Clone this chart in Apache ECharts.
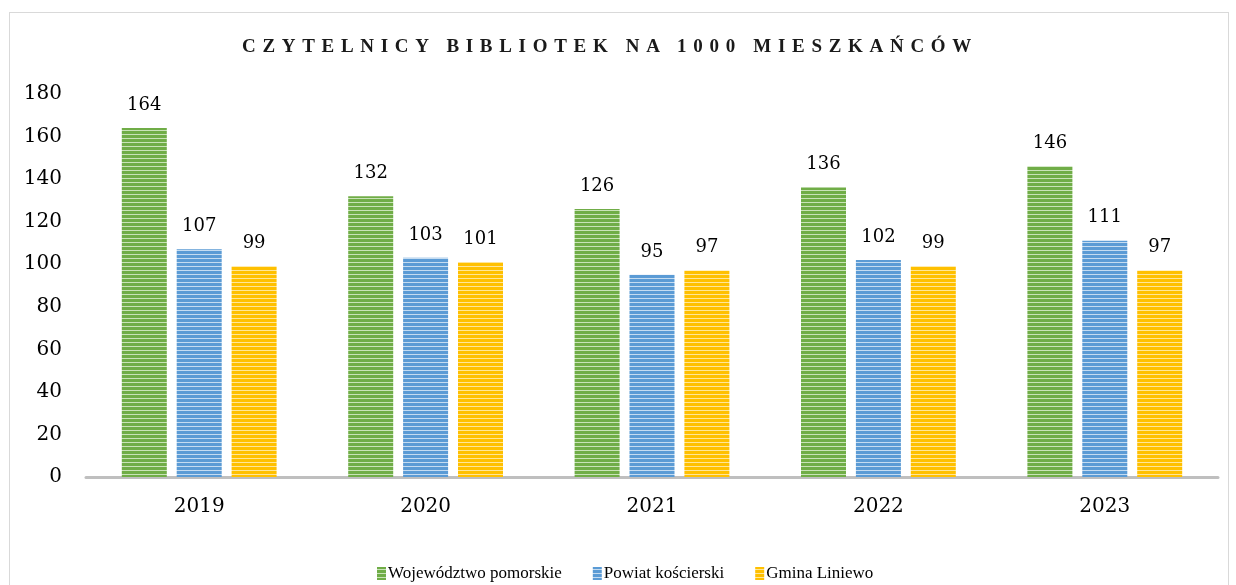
<!DOCTYPE html>
<html>
<head>
<meta charset="utf-8">
<script src="https://cdn.jsdelivr.net/npm/echarts@6/dist/echarts.min.js"></script>
<style>
  html, body { margin: 0; padding: 0; background: #fff; }
  #frame { position: absolute; left: 9px; top: 12px; width: 1218px; height: 600px; border: 1px solid #d9d9d9; }
  #title { position: absolute; left: -8px; top: 35px; width: 1236px; text-align: center;
    font-family: "Liberation Serif", "DejaVu Serif", serif; font-weight: bold; font-size: 19px;
    letter-spacing: 6.7px; color: #1a1a1a; }
  #chart { position: absolute; left: 0; top: 0; width: 1236px; height: 585px; }
</style>
</head>
<body>
<div id="frame"></div>
<div id="chart"></div>
<div id="title">CZYTELNICY BIBLIOTEK NA 1000 MIESZKAŃCÓW</div>
<script>
    var years = ['2019', '2020', '2021', '2022', '2023'];
    var seriesNames = ['Województwo pomorskie', 'Powiat kościerski', 'Gmina Liniewo'];
    var wojewodztwo = [164, 132, 126, 136, 146];
    var powiat = [107, 103, 95, 102, 111];
    var gmina = [99, 101, 97, 99, 97];
    var yTicks = [0, 20, 40, 60, 80, 100, 120, 140, 160, 180];

    // paski poziome w słupkach
    function stripes(base, light) {
        var c = document.createElement('canvas');
        c.width = 4;
        c.height = 4;
        var ctx = c.getContext('2d');
        ctx.fillStyle = base;
        ctx.fillRect(0, 0, 4, 4);
        ctx.fillStyle = light;
        ctx.fillRect(0, 2, 4, 1);
        return { image: c, repeat: 'repeat' };
    }

    var serif = '"DejaVu Serif", "Liberation Serif", serif';
    var legendFont = '"Liberation Serif", "DejaVu Serif", serif';
    var colors = [
        stripes('#70ad47', '#c9e3b8'),
        stripes('#5b9bd5', '#c5dcf1'),
        stripes('#ffc000', '#ffe699')
    ];
    var values = [wojewodztwo, powiat, gmina];

    var myChart = echarts.init(document.getElementById('chart'));

    var option = {
        animation: false,
        grid: { left: 86, right: 18, top: 94, bottom: 108 },
        legend: {
            data: seriesNames,
            left: 372,
            top: 560,
            itemWidth: 9,
            itemHeight: 13,
            itemGap: 31,
            icon: 'rect',
            textStyle: { fontFamily: legendFont, fontSize: 17, color: '#000', padding: [0, 0, 0, -3] }
        },
        xAxis: {
            type: 'category',
            data: years,
            axisTick: { show: false },
            axisLine: { lineStyle: { color: '#bfbfbf', width: 3 } },
            axisLabel: { fontFamily: serif, fontSize: 20, color: '#000', margin: 20 }
        },
        yAxis: {
            type: 'value',
            min: yTicks[0],
            max: yTicks[yTicks.length - 1],
            interval: 20,
            splitLine: { show: false },
            axisLine: { show: false },
            axisTick: { show: false },
            axisLabel: { fontFamily: serif, fontSize: 20, color: '#000', margin: 24 }
        },
        series: seriesNames.map(function (name, i) {
            return {
                name: name,
                type: 'bar',
                data: values[i],
                barWidth: 45,
                barGap: '22%',
                itemStyle: { color: colors[i] },
                label: {
                    show: true,
                    position: 'top',
                    distance: 14,
                    fontFamily: serif,
                    fontSize: 18,
                    color: '#000'
                }
            };
        })
    };
    myChart.setOption(option);
</script>
</body>
</html>
